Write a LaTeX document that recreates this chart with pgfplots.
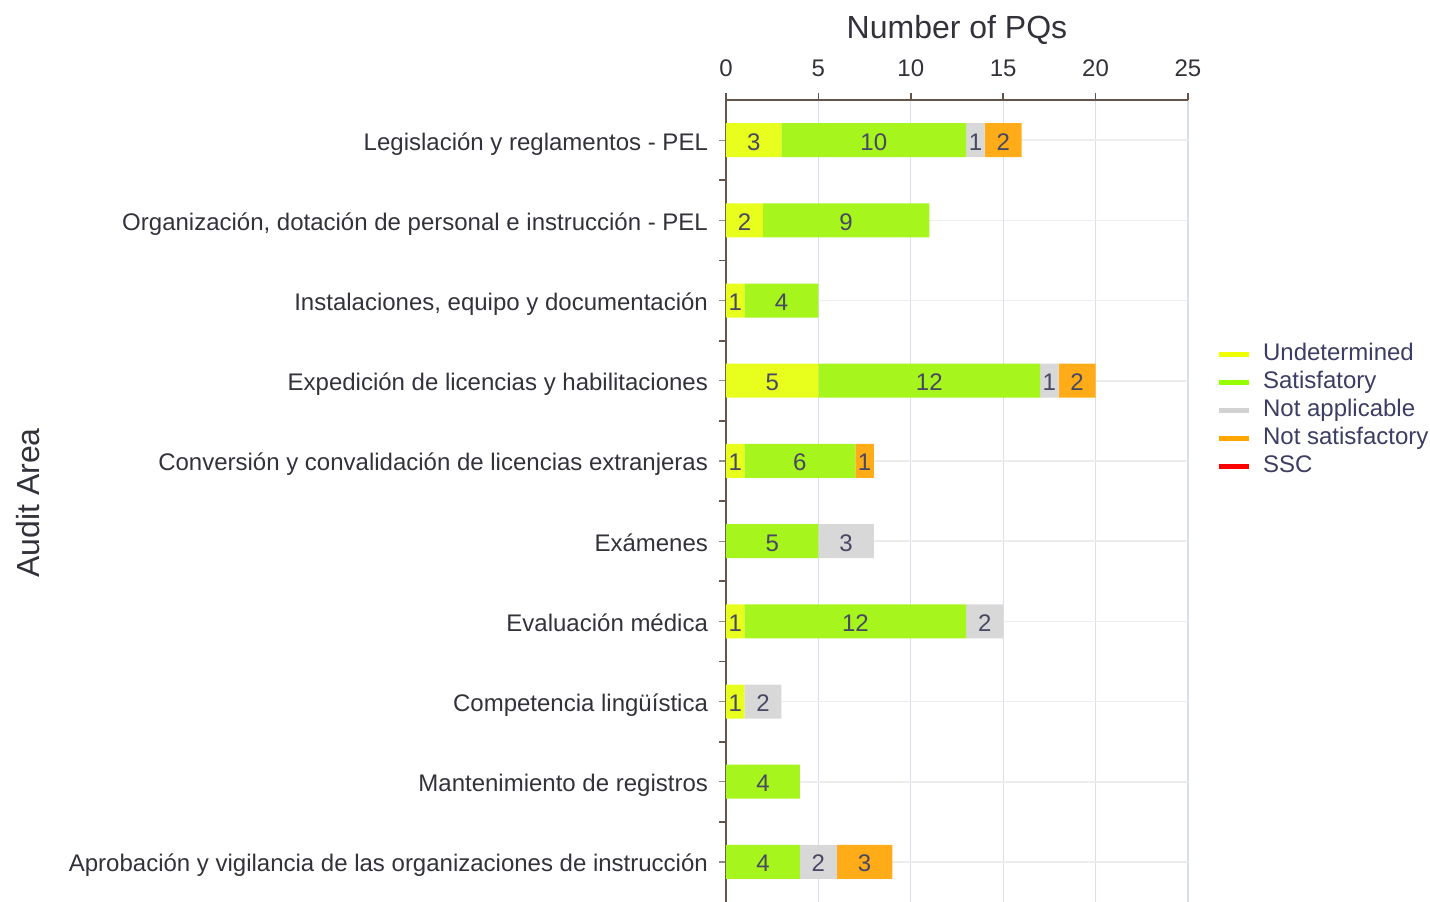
\documentclass[border=0pt]{standalone}
\usepackage{fontspec}
\setmainfont{Liberation Sans}
\usepackage{pgfplots}
\usepackage{pgfplotstable}
\pgfplotsset{compat=1.18}
\definecolor{cUnd}{RGB}{232,255,30}
\definecolor{cSat}{RGB}{166,245,28}
\definecolor{cNA}{RGB}{216,216,216}
\definecolor{cNS}{RGB}{255,172,24}
\definecolor{cSSC}{RGB}{255,0,0}
\definecolor{lUnd}{RGB}{240,255,0}
\definecolor{lSat}{RGB}{150,255,0}
\definecolor{lNA}{RGB}{210,210,210}
\definecolor{lNS}{RGB}{255,165,0}
\definecolor{axbrown}{RGB}{100,84,74}
\definecolor{gridblue}{RGB}{216,222,234}
\definecolor{txt}{RGB}{50,50,58}
\definecolor{lbltxt}{RGB}{72,72,100}
\definecolor{legtxt}{RGB}{60,60,100}

\pgfplotstableread{
y und sat na ns ssc
0 3 10 1 2 0
1 2 9 0 0 0
2 1 4 0 0 0
3 5 12 1 2 0
4 1 6 0 1 0
5 0 5 3 0 0
6 1 12 2 0 0
7 1 0 2 0 0
8 0 4 0 0 0
9 0 4 2 3 0
}\datatable

\pgfplotstableread{
x y l
1.5 0 3
8 0 10
13.5 0 1
15 0 2
1 1 2
6.5 1 9
0.5 2 1
3 2 4
2.5 3 5
11 3 12
17.5 3 1
19 3 2
0.5 4 1
4 4 6
7.5 4 1
2.5 5 5
6.5 5 3
0.5 6 1
7 6 12
14 6 2
0.5 7 1
2 7 2
2 8 4
2 9 4
5 9 2
7.5 9 3
}\labeltable

\begin{document}
\begin{tikzpicture}
\begin{axis}[
  at={(0pt,0pt)}, anchor=south west,
  scale only axis, width=231pt, height=401pt,
  xmin=0, xmax=25, ymin=-0.5, ymax=9.5, y dir=reverse,
  xbar stacked, bar width=17pt,
  axis x line*=top, axis y line*=left,
  axis line style={axbrown, line width=0.9pt},
  xtick={0,5,...,25},
  ytick={0,...,9},
  minor ytick={0.5,1.5,...,8.5},
  yticklabels={Legislación y reglamentos - PEL,
    {Organización, dotación de personal e instrucción - PEL},
    {Instalaciones, equipo y documentación},
    Expedición de licencias y habilitaciones,
    Conversión y convalidación de licencias extranjeras,
    Exámenes, Evaluación médica, Competencia lingüística,
    Mantenimiento de registros,
    Aprobación y vigilancia de las organizaciones de instrucción},
  xmajorgrids, ymajorgrids,
  x grid style={gridblue, line width=0.6pt},
  y grid style={black!7, line width=0.8pt},
  tick align=outside,
  major tick length=3.5pt, minor tick length=3.5pt,
  x tick style={axbrown, line width=0.8pt},
  y tick style={black!45, line width=0.6pt},
  minor y tick style={axbrown, line width=0.9pt},
  /pgf/number format/assume math mode=true,
  tick label style={font=\fontsize{12}{14}\selectfont, text=txt},
  xticklabel style={anchor=base, yshift=8.2pt},
  yticklabel style={anchor=base east, xshift=-2pt, yshift=-5pt},
  title={Number of PQs},
  title style={at={(0.5,1)}, anchor=center, yshift=29pt, font=\fontsize{16}{18}\selectfont, text=txt},
  ylabel={Audit Area},
  every axis y label/.style={at={(axis description cs:-1.511,0.4975)}, rotate=90, anchor=center, font=\fontsize{16}{18}\selectfont, text=txt},
  legend style={at={(axis description cs:1.060,0.7007)}, anchor=north west, draw=none, fill=none,
    font=\fontsize{12}{14}\selectfont, text=legtxt, inner sep=0pt, row sep=0pt, column sep=5pt,
    nodes={inner sep=1pt, text height=9pt, text depth=3pt}},
  legend cell align=left,
  clip=false,
]
\addplot[fill=cUnd, draw=none, legend image code/.code={\draw[lUnd, line width=2.5pt] (0pt,0pt) -- (15pt,0pt);}] table[x=und, y=y] {\datatable};
\addlegendentry{Undetermined}
\addplot[fill=cSat, draw=none, legend image code/.code={\draw[lSat, line width=2.5pt] (0pt,0pt) -- (15pt,0pt);}] table[x=sat, y=y] {\datatable};
\addlegendentry{Satisfatory}
\addplot[fill=cNA, draw=none, legend image code/.code={\draw[lNA, line width=2.5pt] (0pt,0pt) -- (15pt,0pt);}] table[x=na, y=y] {\datatable};
\addlegendentry{Not applicable}
\addplot[fill=cNS, draw=none, legend image code/.code={\draw[lNS, line width=2.5pt] (0pt,0pt) -- (15pt,0pt);}] table[x=ns, y=y] {\datatable};
\addlegendentry{Not satisfactory}
\addplot[fill=cSSC, draw=none, legend image code/.code={\draw[cSSC, line width=2.5pt] (0pt,0pt) -- (15pt,0pt);}] table[x=ssc, y=y] {\datatable};
\addlegendentry{SSC}
\end{axis}
\begin{axis}[
  at={(0pt,0pt)}, anchor=south west,
  scale only axis, width=231pt, height=401pt,
  xmin=0, xmax=25, ymin=-0.5, ymax=9.5, y dir=reverse,
  hide axis, clip=false]
\addplot[only marks, mark=none,
  nodes near coords, point meta=explicit symbolic,
  every node near coord/.style={anchor=base, yshift=-5pt, font=\fontsize{12}{14}\selectfont, text=lbltxt, inner sep=0pt}]
  table[x=x, y=y, meta=l] {\labeltable};
\end{axis}
\pgfresetboundingbox
\path[use as bounding box] (-363pt,0.5pt) rectangle (352pt,451pt);
\end{tikzpicture}
\end{document}
